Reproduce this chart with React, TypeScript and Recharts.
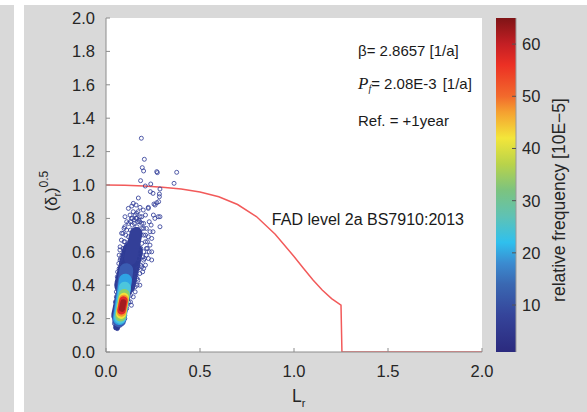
import { ComposedChart, Scatter, Line, XAxis, YAxis, CartesianGrid, BarChart, Bar } from 'recharts';

// axes
const X_TICKS = [0, 0.5, 1, 1.5, 2];
const Y_TICKS = [0, 0.2, 0.4, 0.6, 0.8, 1, 1.2, 1.4, 1.6, 1.8, 2];
const CBAR_TICKS = [10, 20, 30, 40, 50, 60];
const CBAR_DOMAIN = [1, 65];

// FAD level 2a curve
const fadLr = [0, 0.1, 0.2, 0.3, 0.4, 0.5, 0.6, 0.7, 0.8, 0.9, 1.0, 1.05, 1.1, 1.15, 1.2, 1.25, 1.255, 2.0];
const fadDelta = [1.0, 0.999, 0.994, 0.987, 0.976, 0.958, 0.93, 0.883, 0.811, 0.705, 0.572, 0.501, 0.433, 0.371, 0.32, 0.28, 0, 0];

// sparse samples (open circles) - Lr, sqrt(delta_r)
const samples: [number, number][] = [
  [0.188, 1.28], [0.204, 1.154], [0.193, 1.104], [0.2, 1.084], [0.27, 1.08], [0.273, 1.074],
  [0.376, 1.076], [0.184, 1.026], [0.238, 1.006], [0.209, 0.994], [0.362, 1.01], [0.287, 0.976],
  [0.236, 0.96], [0.25, 0.95], [0.284, 0.946], [0.284, 0.93], [0.172, 0.922], [0.145, 0.89],
  [0.137, 0.874], [0.119, 0.86], [0.181, 0.866], [0.225, 0.866], [0.255, 0.886], [0.27, 0.894],
  [0.28, 0.9], [0.101, 0.81], [0.128, 0.82], [0.163, 0.83], [0.198, 0.85], [0.261, 0.88],
  [0.287, 0.81], [0.243, 0.551], [0.074, 0.611], [0.083, 0.711], [0.096, 0.74], [0.11, 0.78],
  [0.287, 0.75], [0.234, 0.72], [0.243, 0.68], [0.096, 0.66], [0.234, 0.64], [0.243, 0.6],
  [0.078, 0.56], [0.252, 0.82], [0.278, 0.81], [0.163, 0.8], [0.181, 0.81],
  [0.11, 0.64], [0.12, 0.69], [0.13, 0.73], [0.14, 0.76], [0.15, 0.79], [0.155, 0.82],
  [0.17, 0.84], [0.18, 0.78], [0.19, 0.74], [0.2, 0.7], [0.21, 0.66], [0.22, 0.62],
  [0.2, 0.6], [0.19, 0.65], [0.175, 0.7], [0.165, 0.75], [0.2, 0.77], [0.215, 0.74],
  [0.225, 0.69], [0.23, 0.78], [0.21, 0.82], [0.19, 0.81], [0.145, 0.84], [0.12, 0.77],
  [0.105, 0.7], [0.1, 0.66], [0.09, 0.62], [0.12, 0.6], [0.16, 0.62], [0.18, 0.58],
  [0.2, 0.55], [0.215, 0.58], [0.23, 0.6], [0.185, 0.52], [0.2, 0.5], [0.17, 0.5],
  [0.165, 0.44], [0.16, 0.46], [0.15, 0.42], [0.165, 0.4], [0.14, 0.38], [0.13, 0.34],
  [0.12, 0.3], [0.135, 0.28], [0.11, 0.26], [0.1, 0.22], [0.1, 0.2], [0.06, 0.45],
  [0.07, 0.5], [0.075, 0.55], [0.065, 0.4], [0.055, 0.33], [0.05, 0.27], [0.045, 0.22],
  [0.045, 0.17], [0.06, 0.14], [0.075, 0.16], [0.09, 0.19], [0.24, 0.76], [0.26, 0.8],
  [0.25, 0.72], [0.225, 0.86], [0.16, 0.88], [0.135, 0.8], [0.17, 0.56], [0.195, 0.48],
  [0.155, 0.36], [0.18, 0.4], [0.21, 0.52], [0.225, 0.56],
  [0.05, 0.3], [0.055, 0.36], [0.06, 0.42], [0.062, 0.48], [0.068, 0.53], [0.07, 0.58],
  [0.075, 0.63], [0.082, 0.67], [0.09, 0.71], [0.1, 0.75], [0.11, 0.73], [0.13, 0.3],
  [0.145, 0.33], [0.155, 0.39], [0.17, 0.43], [0.18, 0.47], [0.19, 0.51], [0.205, 0.56],
  [0.215, 0.62], [0.22, 0.66], [0.21, 0.7], [0.2, 0.74], [0.19, 0.77], [0.175, 0.79],
  [0.13, 0.78], [0.14, 0.8], [0.15, 0.77], [0.16, 0.8], [0.17, 0.78], [0.145, 0.72],
  [0.165, 0.72], [0.18, 0.7], [0.125, 0.66], [0.185, 0.62], [0.195, 0.57], [0.085, 0.58],
];

// dense part of the cloud as spines (start, end), from the navy body to the red core
const bandSpines: [number, number][][] = [
  [[0.057, 0.15], [0.075, 0.24]],
  [[0.068, 0.22], [0.105, 0.42]],
  [[0.1, 0.4], [0.14, 0.6]],
  [[0.13, 0.56], [0.16, 0.71]],
  [[0.07, 0.19], [0.108, 0.49]],
  [[0.072, 0.2], [0.103, 0.43]],
  [[0.075, 0.205], [0.1, 0.385]],
  [[0.078, 0.215], [0.097, 0.345]],
  [[0.08, 0.228], [0.095, 0.325]],
  [[0.082, 0.24], [0.094, 0.315]],
  [[0.083, 0.25], [0.093, 0.308]],
  [[0.085, 0.258], [0.092, 0.298]],
];
const bandColors = ['#2c3a92', '#2c3a92', '#2e3b94', '#333f98', '#3a5cb2', '#2fa3e4', '#4cc6dd', '#8ccf6a', '#f2e23a', '#f39a2a', '#e3282a', '#a31b1f'];
const bandWidths = [7, 15, 21, 13, 14, 13, 12, 11, 10, 9.5, 8.5, 6];

// colorbar (value, colour) from top to bottom
const cbarValues = [65, 60, 56, 50, 47, 42, 37, 32, 27, 22, 18, 14, 8, 1];
const cbarColors = ['#7f1416', '#c41f24', '#ec3024', '#f26a2c', '#f5a030', '#f3e63a', '#b9d34a', '#7cc37f', '#5fc2b4', '#2fc0ee', '#3b8bd0', '#3a68b2', '#35449a', '#2b2a7e'];

const AXIS_GRAY = '#8c8c8c';
const TEXT = '#262626';
const FONT = '"Liberation Sans", Arial, sans-serif';

const fadData = fadLr.map((x, i) => ({ x, y: fadDelta[i] }));
const sampleData = samples.map(([x, y]) => ({ x, y }));
const cbarData = [{ name: 'c', range: CBAR_DOMAIN }];

const tickStyle = { fontSize: 16.5, fill: TEXT, fontFamily: FONT };

function App() {
  // one density band = thick round-capped segment between two data points
  const band = (i: number) => (
    <Scatter
      key={`band-${i}`}
      xAxisId="b"
      yAxisId="l"
      data={bandSpines[i].map(([x, y]) => ({ x, y }))}
      line={{ stroke: bandColors[i], strokeWidth: bandWidths[i], strokeLinecap: 'round' }}
      lineType="joint"
      shape={() => <g />}
      isAnimationActive={false}
    />
  );

  return (
    <div style={{ position: 'absolute', left: 0, top: 0, width: 587, height: 412, background: '#fff', overflow: 'hidden' }}>
      <div style={{ position: 'absolute', left: 0, top: 5, width: 14, height: 407, background: '#d9d9d9' }} />
      <div style={{ position: 'absolute', left: 24, top: 5, width: 563, height: 407, background: '#d9d9d9' }} />

      <div style={{ position: 'absolute', left: 0, top: 0 }}>
        <ComposedChart width={587} height={412} margin={{ top: 18, right: 105, bottom: 0, left: 0 }}>
          <CartesianGrid xAxisId="b" yAxisId="l" horizontal={false} vertical={false} fill="#fff" />
          <XAxis
            xAxisId="b"
            type="number"
            dataKey="x"
            domain={[0, 2]}
            ticks={X_TICKS}
            allowDataOverflow
            height={60}
            tickSize={-4}
            tickMargin={17}
            tickFormatter={(v: number) => v.toFixed(1)}
            tick={tickStyle}
            stroke={AXIS_GRAY}
          />
          <XAxis
            xAxisId="t"
            orientation="top"
            type="number"
            domain={[0, 2]}
            ticks={X_TICKS}
            height={0}
            tickSize={-4}
            tickFormatter={() => ''}
            stroke={AXIS_GRAY}
          />
          <YAxis
            yAxisId="l"
            type="number"
            dataKey="y"
            domain={[0, 2]}
            ticks={Y_TICKS}
            allowDataOverflow
            width={106}
            tickSize={-4}
            tickMargin={15}
            tickFormatter={(v: number) => v.toFixed(1)}
            tick={tickStyle}
            stroke={AXIS_GRAY}
          />
          <YAxis
            yAxisId="r"
            orientation="right"
            type="number"
            domain={[0, 2]}
            ticks={Y_TICKS}
            width={0}
            tickSize={-4}
            tickFormatter={() => ''}
            stroke={AXIS_GRAY}
          />

          {[0, 1, 2, 3].map(band)}

          <Scatter
            xAxisId="b"
            yAxisId="l"
            data={sampleData}
            shape={(p: any) => <circle cx={p.cx} cy={p.cy} r={2} fill="none" stroke="#34409a" strokeWidth={0.85} />}
            isAnimationActive={false}
          />

          {[4, 5, 6, 7, 8, 9, 10, 11].map(band)}

          <Line
            xAxisId="b"
            yAxisId="l"
            data={fadData}
            dataKey="y"
            type="linear"
            stroke="#f25a5a"
            strokeWidth={1.5}
            dot={false}
            isAnimationActive={false}
          />
        </ComposedChart>
      </div>

      <div style={{ position: 'absolute', left: 496, top: 0 }}>
        <BarChart width={91} height={412} data={cbarData} margin={{ top: 18, right: 0, bottom: 60, left: 0 }} barCategoryGap={0}>
          <defs>
            <linearGradient id="cbar" x1="0" y1="0" x2="0" y2="1">
              {cbarValues.map((v, i) => (
                <stop key={v} offset={(CBAR_DOMAIN[1] - v) / (CBAR_DOMAIN[1] - CBAR_DOMAIN[0])} stopColor={cbarColors[i]} />
              ))}
            </linearGradient>
          </defs>
          <XAxis dataKey="name" hide />
          <YAxis
            orientation="right"
            type="number"
            domain={CBAR_DOMAIN}
            ticks={CBAR_TICKS}
            allowDataOverflow
            width={71}
            tickSize={-4}
            tickMargin={10}
            tick={tickStyle}
            stroke="#555"
            axisLine={{ stroke: '#9a9a9a' }}
          />
          <Bar dataKey="range" fill="url(#cbar)" isAnimationActive={false} />
        </BarChart>
      </div>

      <svg width={587} height={412} style={{ position: 'absolute', left: 0, top: 0, pointerEvents: 'none' }}>
        <g fontFamily={FONT} fill="#1a1a1a">
          <text x={358} y={56} fontSize={15}>β= 2.8657 [1/a]</text>
          <text x={358} y={89} fontSize={15}>
            <tspan fontFamily='"Liberation Serif", serif' fontStyle="italic" fontSize={17}>P</tspan>
            <tspan fontFamily='"Liberation Serif", serif' fontStyle="italic" fontSize={10} dy={3}>f</tspan>
            <tspan dy={-3}>= 2.08E-3</tspan>
            <tspan dx={6}>[1/a]</tspan>
          </text>
          <text x={358} y={126} fontSize={15}>Ref. = +1year</text>
          <text x={464} y={225} fontSize={16} textAnchor="end">FAD level 2a BS7910:2013</text>
        </g>
        <g fontFamily={FONT} fill={TEXT}>
          <text x={292} y={401.5} fontSize={17.5}>
            L<tspan fontSize={11} dy={5}>r</tspan>
          </text>
          <text transform="translate(57,191) rotate(-90)" textAnchor="middle" fontSize={16.5}>
            (δ<tspan fontSize={11} dy={4}>r</tspan>
            <tspan dy={-4}>)</tspan>
            <tspan fontSize={12} dy={-9}>0.5</tspan>
          </text>
          <text transform="translate(565,200) rotate(-90)" textAnchor="middle" fontSize={17.5}>
            relative frequency [10E−5]
          </text>
        </g>
      </svg>
    </div>
  );
}

export default App;
